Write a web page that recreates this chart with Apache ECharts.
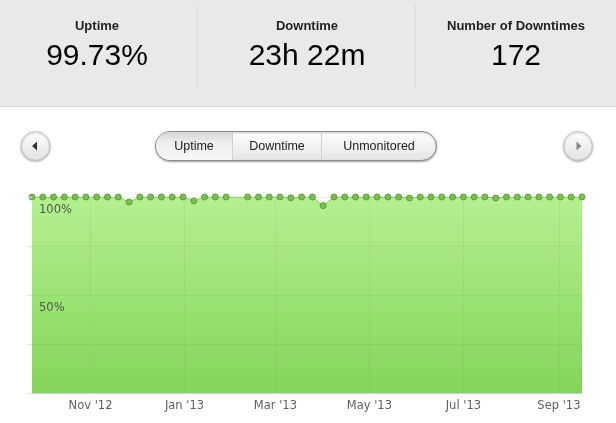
<!DOCTYPE html>
<html>
<head>
<meta charset="utf-8">
<script src="https://cdn.jsdelivr.net/npm/echarts@6/dist/echarts.min.js"></script>
<style>
html,body{margin:0;padding:0;background:#fff;}
#chart{width:616px;height:423px;}
</style>
</head>
<body>
<div id="chart"></div>
<script>
// ---- data ----
const statLabels = ['Uptime', 'Downtime', 'Number of Downtimes'];
const statValues = ['99.73%', '23h 22m', '172'];
const tabLabels = ['Uptime', 'Downtime', 'Unmonitored'];

const dates = [
  '2012-09-24','2012-10-01','2012-10-08','2012-10-15','2012-10-22','2012-10-29',
  '2012-11-05','2012-11-12','2012-11-19','2012-11-26','2012-12-03','2012-12-10',
  '2012-12-17','2012-12-24','2012-12-31','2013-01-07','2013-01-14','2013-01-21',
  '2013-01-28','2013-02-04','2013-02-11','2013-02-18','2013-02-25','2013-03-04',
  '2013-03-11','2013-03-18','2013-03-25','2013-04-01','2013-04-08','2013-04-15',
  '2013-04-22','2013-04-29','2013-05-06','2013-05-13','2013-05-20','2013-05-27',
  '2013-06-03','2013-06-10','2013-06-17','2013-06-24','2013-07-01','2013-07-08',
  '2013-07-15','2013-07-22','2013-07-29','2013-08-05','2013-08-12','2013-08-19',
  '2013-08-26','2013-09-02','2013-09-09','2013-09-16'
];
const uptime = [
  100, 100, 100, 100, 100, 100,
  100, 100, 100, 97.4, 100, 100,
  100, 100, 100, 98.0, 100, 100,
  100, null, 100, 100, 100, 100,
  99.6, 100, 100, 95.6, 100, 100,
  100, 100, 100, 100, 100, 99.5,
  100, 100, 100, 100, 100, 100,
  100, 99.5, 100, 100, 100, 100,
  100, 100, 100, 100
];
const tickDates = ['2012-11-01','2013-01-01','2013-03-01','2013-05-01','2013-07-01','2013-09-01'];
const tickLabels = ["Nov '12", "Jan '13", "Mar '13", "May '13", "Jul '13", "Sep '13"];
const yLabelValues = [50, 100];

// ---- chart ----
const chart = echarts.init(document.getElementById('chart'), null, {renderer: 'canvas'});
const toTime = d => echarts.time.parse(d).getTime();
const seriesData = dates.map((d, i) => [toTime(d), uptime[i]]);
const tickTimes = tickDates.map(toTime);

function grad(stops) {
  return new echarts.graphic.LinearGradient(0, 0, 0, 1, stops.map(c => ({offset: c[0], color: c[1]})));
}

const headerFont = '"Liberation Sans", Arial, sans-serif';
const colCenters = [97, 307, 516];
const graphics = [
  {type: 'rect', z: -10, silent: true, shape: {x: 0, y: 0, width: 616, height: 106}, style: {fill: '#e9e9e9'}},
  {type: 'line', z: -9, silent: true, shape: {x1: 0, y1: 106.5, x2: 616, y2: 106.5}, style: {stroke: '#d9d9d9', lineWidth: 1}},
  {type: 'line', z: -9, silent: true, shape: {x1: 197.5, y1: 5, x2: 197.5, y2: 89}, style: {stroke: '#dcdcdc', lineWidth: 1}},
  {type: 'line', z: -9, silent: true, shape: {x1: 415.5, y1: 5, x2: 415.5, y2: 89}, style: {stroke: '#dcdcdc', lineWidth: 1}}
];
statLabels.forEach((t, i) => {
  graphics.push({type: 'text', silent: true, style: {text: t, x: colCenters[i], y: 26, textAlign: 'center', textVerticalAlign: 'middle', font: 'bold 13px ' + headerFont, fill: '#222'}});
  graphics.push({type: 'text', silent: true, style: {text: statValues[i], x: colCenters[i], y: 57, textAlign: 'center', textVerticalAlign: 'middle', font: '30px ' + headerFont, fill: '#000'}});
});

// circular nav buttons
[[35.5, 'l'], [578, 'r']].forEach(([cx, dir]) => {
  graphics.push({type: 'circle', silent: true, shape: {cx: cx, cy: 146, r: 14.5},
    style: {fill: grad([[0, '#ffffff'], [1, '#e2e2e2']]), stroke: '#c4c4c4', lineWidth: 1, shadowBlur: 2, shadowOffsetY: 1, shadowColor: 'rgba(0,0,0,0.25)'}});
  const pts = dir === 'l' ? [[32, 146], [37, 141.5], [37, 150.5]] : [[581.5, 146], [576.5, 141.5], [576.5, 150.5]];
  graphics.push({type: 'polygon', silent: true, shape: {points: pts}, style: {fill: dir === 'l' ? '#333' : '#888'}});
});

// segmented control
const segX = [155.5, 232.5, 321.5, 436.5];
graphics.push({type: 'rect', silent: true, shape: {x: 155.5, y: 131.5, width: 281, height: 29, r: 14.5},
  style: {fill: grad([[0, '#ffffff'], [1, '#e4e4e4']]), stroke: '#8a8a8a', lineWidth: 1, shadowBlur: 2, shadowOffsetY: 1, shadowColor: 'rgba(0,0,0,0.3)'}});
graphics.push({type: 'rect', silent: true, shape: {x: 156, y: 132, width: 76.5, height: 28, r: [14, 0, 0, 14]},
  style: {fill: grad([[0, '#d6d6d6'], [0.35, '#ececec'], [1, '#f7f7f7']])}});
graphics.push({type: 'line', silent: true, shape: {x1: 232.5, y1: 132, x2: 232.5, y2: 160}, style: {stroke: '#cfcfcf', lineWidth: 1}});
graphics.push({type: 'line', silent: true, shape: {x1: 321.5, y1: 132, x2: 321.5, y2: 160}, style: {stroke: '#cfcfcf', lineWidth: 1}});
tabLabels.forEach((t, i) => {
  graphics.push({type: 'text', silent: true, style: {text: t, x: (segX[i] + segX[i + 1]) / 2, y: 146.5, textAlign: 'center', textVerticalAlign: 'middle', font: '12.5px ' + headerFont, fill: '#222'}});
});

const option = {
  backgroundColor: '#ffffff',
  animation: false,
  grid: {left: 32, right: 34, top: 197, bottom: 30, containLabel: false, outerBoundsMode: 'none'},
  xAxis: {
    type: 'value',
    min: seriesData[0][0],
    max: seriesData[seriesData.length - 1][0],
    z: 5,
    axisLine: {show: true, lineStyle: {color: '#c8cdd2', width: 1}},
    axisTick: {show: false, customValues: tickTimes},
    axisLabel: {
      customValues: tickTimes,
      showMinLabel: true,
      showMaxLabel: true,
      hideOverlap: false,
      margin: 7,
      color: '#606060',
      fontSize: 11.5,
      fontFamily: '"DejaVu Sans", Verdana, sans-serif',
      formatter: function (v) {
        const idx = tickTimes.indexOf(v);
        return idx >= 0 ? tickLabels[idx] : '';
      }
    },
    splitLine: {show: true, lineStyle: {color: 'rgba(120,140,110,0.10)', width: 1}}
  },
  yAxis: {
    type: 'value',
    min: 0,
    max: 100,
    interval: 25,
    z: 5,
    axisLine: {show: false},
    axisTick: {show: true, inside: false, length: 5, lineStyle: {color: '#e2e2e2'}},
    axisLabel: {
      inside: true,
      margin: 7,
      verticalAlign: 'top',
      padding: [7, 0, 0, 0],
      color: '#4e5a48',
      fontSize: 11.5,
      fontFamily: '"DejaVu Sans", Verdana, sans-serif',
      formatter: function (v) { return yLabelValues.indexOf(v) >= 0 ? v + '%' : ''; }
    },
    splitLine: {show: true, lineStyle: {color: 'rgba(110,130,100,0.12)', width: 1}}
  },
  series: [{
    type: 'line',
    data: seriesData,
    connectNulls: true,
    showSymbol: true,
    showAllSymbol: true,
    symbol: 'circle',
    symbolSize: 6,
    z: 2,
    lineStyle: {color: '#8dc46c', width: 1},
    itemStyle: {color: '#7ac150', borderColor: '#5e9f3d', borderWidth: 1},
    areaStyle: {
      opacity: 1,
      color: grad([[0, '#b3f18f'], [1, '#85d45b']])
    }
  }],
  graphic: graphics
};
chart.setOption(option);
</script>
</body>
</html>
